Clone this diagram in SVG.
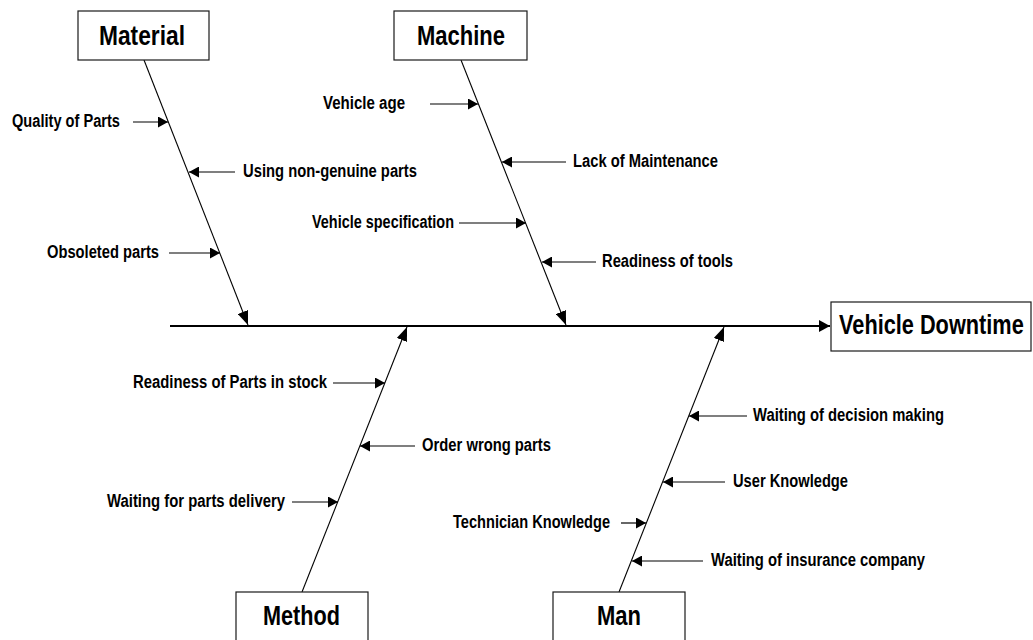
<svg xmlns="http://www.w3.org/2000/svg" width="1033" height="640" viewBox="0 0 1033 640">
  <style>
    .box { fill: #ffffff; stroke: #1a1a1a; stroke-width: 1.2; }
    .title { font-family: "Liberation Sans Narrow", "Arial Narrow", "Liberation Sans", Arial, sans-serif; font-weight: bold; font-size: 27px; fill: #000; }
    .label { font-family: "Liberation Sans Narrow", "Arial Narrow", "Liberation Sans", Arial, sans-serif; font-weight: bold; font-size: 18px; fill: #000; }
    .spine { stroke: #000; stroke-width: 1.1; fill: none; }
    .main { stroke: #000; stroke-width: 1.8; fill: none; }
    .cause { stroke: #000; stroke-width: 1.2; fill: none; }
  </style>
  <defs>
    <marker id="headSmall" markerUnits="userSpaceOnUse" markerWidth="10" markerHeight="11" refX="10" refY="5.5" orient="auto">
      <path d="M0,0 L10,5.5 L0,11 z" fill="#000"/>
    </marker>
    <marker id="headSpine" markerUnits="userSpaceOnUse" markerWidth="14" markerHeight="11" refX="14" refY="5.5" orient="auto">
      <path d="M0,0 L14,5.5 L0,11 z" fill="#000"/>
    </marker>
    <marker id="headMain" markerUnits="userSpaceOnUse" markerWidth="11" markerHeight="12" refX="11" refY="6" orient="auto">
      <path d="M0,0 L11,6 L0,12 z" fill="#000"/>
    </marker>
  </defs>

  <!-- connectors: backbone, category spines and cause arrows -->
  <g id="connectors">
    <line class="main" x1="170" y1="326" x2="830" y2="326" marker-end="url(#headMain)"/>

    <line class="spine" x1="144" y1="60" x2="248" y2="325" marker-end="url(#headSpine)"/>
    <line class="spine" x1="461" y1="60" x2="566" y2="325" marker-end="url(#headSpine)"/>
    <line class="spine" x1="302" y1="592" x2="407" y2="327" marker-end="url(#headSpine)"/>
    <line class="spine" x1="619" y1="592" x2="724" y2="327" marker-end="url(#headSpine)"/>

    <!-- Material causes -->
    <line class="cause" x1="133" y1="122" x2="168" y2="122" marker-end="url(#headSmall)"/>
    <line class="cause" x1="235" y1="172" x2="189" y2="172" marker-end="url(#headSmall)"/>
    <line class="cause" x1="169" y1="253" x2="220" y2="253" marker-end="url(#headSmall)"/>

    <!-- Machine causes -->
    <line class="cause" x1="430" y1="104" x2="478" y2="104" marker-end="url(#headSmall)"/>
    <line class="cause" x1="566" y1="162" x2="502" y2="162" marker-end="url(#headSmall)"/>
    <line class="cause" x1="459" y1="223" x2="526" y2="223" marker-end="url(#headSmall)"/>
    <line class="cause" x1="596" y1="262" x2="542" y2="262" marker-end="url(#headSmall)"/>

    <!-- Method causes -->
    <line class="cause" x1="333" y1="383" x2="385" y2="383" marker-end="url(#headSmall)"/>
    <line class="cause" x1="415" y1="446" x2="360" y2="446" marker-end="url(#headSmall)"/>
    <line class="cause" x1="292" y1="502" x2="338" y2="502" marker-end="url(#headSmall)"/>

    <!-- Man causes -->
    <line class="cause" x1="747" y1="416" x2="689" y2="416" marker-end="url(#headSmall)"/>
    <line class="cause" x1="725" y1="482" x2="663" y2="482" marker-end="url(#headSmall)"/>
    <line class="cause" x1="621" y1="523" x2="646" y2="523" marker-end="url(#headSmall)"/>
    <line class="cause" x1="703" y1="561" x2="632" y2="561" marker-end="url(#headSmall)"/>
  </g>

  <!-- category nodes -->
  <g id="material">
    <rect class="box" x="78" y="11" width="131" height="49"/>
    <text class="title" x="142" y="45" text-anchor="middle" textLength="86" lengthAdjust="spacingAndGlyphs">Material</text>
  </g>
  <g id="machine">
    <rect class="box" x="394" y="11" width="133" height="49"/>
    <text class="title" x="461" y="45" text-anchor="middle" textLength="88" lengthAdjust="spacingAndGlyphs">Machine</text>
  </g>
  <g id="method">
    <rect class="box" x="236" y="592" width="132" height="50"/>
    <text class="title" x="301.5" y="625" text-anchor="middle" textLength="77" lengthAdjust="spacingAndGlyphs">Method</text>
  </g>
  <g id="man">
    <rect class="box" x="553" y="592" width="132" height="50"/>
    <text class="title" x="619" y="625" text-anchor="middle" textLength="44" lengthAdjust="spacingAndGlyphs">Man</text>
  </g>

  <!-- effect node -->
  <g id="effect">
    <rect class="box" x="831" y="302" width="200" height="49"/>
    <text class="title" transform="translate(839 334) scale(0.805 1)">Vehicle Downtime</text>
  </g>

  <!-- cause labels -->
  <g id="material-causes">
    <text class="label" x="12" y="127" textLength="108" lengthAdjust="spacingAndGlyphs">Quality of Parts</text>
    <text class="label" x="243" y="177" textLength="174" lengthAdjust="spacingAndGlyphs">Using non-genuine parts</text>
    <text class="label" x="47" y="258" textLength="112" lengthAdjust="spacingAndGlyphs">Obsoleted parts</text>
  </g>
  <g id="machine-causes">
    <text class="label" x="323" y="109" textLength="82" lengthAdjust="spacingAndGlyphs">Vehicle age</text>
    <text class="label" x="573" y="167" textLength="145" lengthAdjust="spacingAndGlyphs">Lack of Maintenance</text>
    <text class="label" x="312" y="228" textLength="142" lengthAdjust="spacingAndGlyphs">Vehicle specification</text>
    <text class="label" x="602" y="267" textLength="131" lengthAdjust="spacingAndGlyphs">Readiness of tools</text>
  </g>
  <g id="method-causes">
    <text class="label" x="133" y="388" textLength="194" lengthAdjust="spacingAndGlyphs">Readiness of Parts in stock</text>
    <text class="label" x="422" y="451" textLength="129" lengthAdjust="spacingAndGlyphs">Order wrong parts</text>
    <text class="label" x="107" y="507" textLength="178" lengthAdjust="spacingAndGlyphs">Waiting for parts delivery</text>
  </g>
  <g id="man-causes">
    <text class="label" x="753" y="421" textLength="191" lengthAdjust="spacingAndGlyphs">Waiting of decision making</text>
    <text class="label" x="733" y="487" textLength="115" lengthAdjust="spacingAndGlyphs">User Knowledge</text>
    <text class="label" x="453" y="528" textLength="157" lengthAdjust="spacingAndGlyphs">Technician Knowledge</text>
    <text class="label" x="711" y="566" textLength="214" lengthAdjust="spacingAndGlyphs">Waiting of insurance company</text>
  </g>
</svg>
